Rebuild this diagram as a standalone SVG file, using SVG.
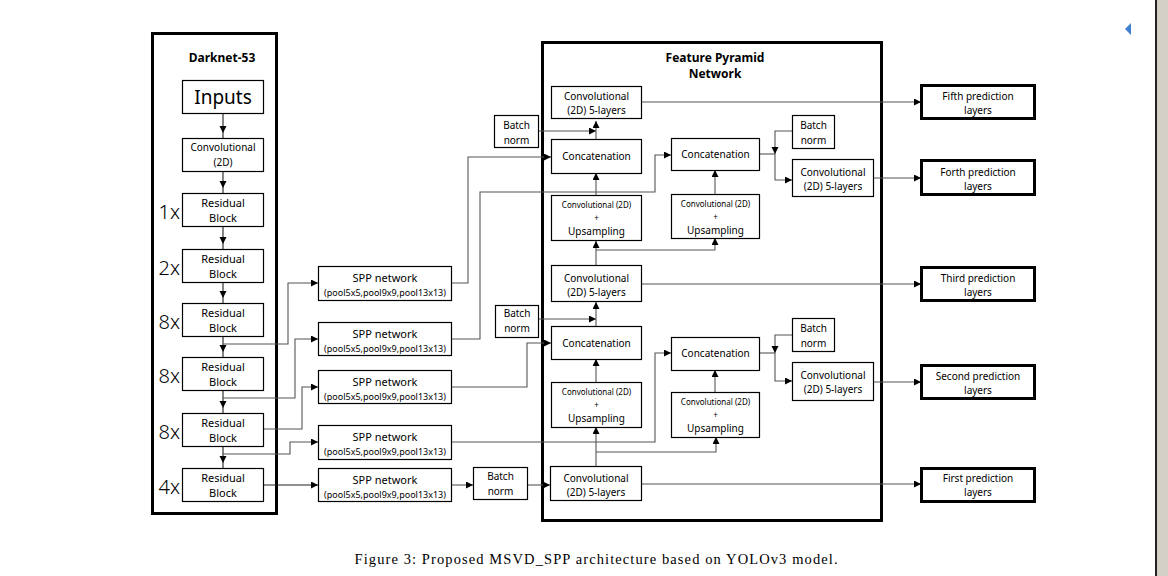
<svg xmlns="http://www.w3.org/2000/svg" width="1168" height="576" viewBox="0 0 1168 576">
  <defs>
    <marker id="arr" markerUnits="userSpaceOnUse" markerWidth="8" markerHeight="8" refX="7" refY="3.5" orient="auto">
      <path d="M0,0 L7,3.5 L0,7 z" fill="#000"/>
    </marker>
    <marker id="arrg" markerUnits="userSpaceOnUse" markerWidth="14" markerHeight="8" refX="12" refY="3.5" orient="auto">
      <path d="M0,0 L7,3.5 L0,7 z" fill="#000"/>
    </marker>
  </defs>
  <style>
    text { font-family: "Noto Sans", "Open Sans", sans-serif; fill: #000; text-anchor: middle; }
    .box { fill: #fff; stroke: #000; stroke-width: 1.2; }
    .frame { fill: none; stroke: #000; stroke-width: 3; }
    .pred { fill: #fff; stroke: #000; stroke-width: 3; }
    .t11 { font-size: 11px; }
    .t10 { font-size: 10px; }
    .t9 { font-size: 9px; }
    .t8 { font-size: 8px; }
    .ttl { font-size: 12px; font-weight: bold; }
    .mul { font-size: 20px; text-anchor: end; font-weight: 300; }
    .c { fill: none; stroke: #555; stroke-width: 1.1; }
    .cd { fill: none; stroke: #222; stroke-width: 1.1; }
    .cap { font-family: "Liberation Serif", "Times New Roman", serif; font-size: 14.5px; }
  </style>

  <rect x="0" y="0" width="1168" height="576" fill="#fff"/>
  <!-- window edge -->
  <rect x="1157" y="0" width="11" height="576" fill="#d4d0c8"/>
  <line x1="1156" y1="0" x2="1156" y2="576" stroke="#222" stroke-width="2"/>
  <path d="M1125,29 L1131,23 L1131,35 z" fill="#3f7fcf"/>

  <!-- frames -->
  <g id="darknet53">
    <rect class="frame" x="152.5" y="33.5" width="124" height="480"/>
    <text class="ttl" x="222" y="62">Darknet-53</text>
  </g>
  <g id="fpn">
    <rect class="frame" x="542.5" y="42.5" width="339" height="478"/>
    <text class="ttl" x="715" y="62">Feature Pyramid</text>
    <text class="ttl" x="715" y="78">Network</text>
  </g>

  <!-- connectors -->
  <g id="connectors">
    <!-- backbone chain -->
    <path class="cd" d="M223,113 V138" marker-end="url(#arrg)"/>
    <path class="cd" d="M223,171 V193" marker-end="url(#arrg)"/>
    <path class="cd" d="M223,226 V249" marker-end="url(#arrg)"/>
    <path class="cd" d="M223,282 V303" marker-end="url(#arrg)"/>
    <path class="cd" d="M223,336 V357" marker-end="url(#arrg)"/>
    <path class="cd" d="M223,390 V413" marker-end="url(#arrg)"/>
    <path class="cd" d="M223,446 V468" marker-end="url(#arrg)"/>
    <!-- backbone to SPP -->
    <path class="c" d="M223,344 H288 V283 H318" marker-end="url(#arr)"/>
    <path class="c" d="M223,398 H295 V339 H318" marker-end="url(#arr)"/>
    <path class="c" d="M263,429 H302 V387 H318" marker-end="url(#arr)"/>
    <path class="c" d="M223,454 H290 V442 H318" marker-end="url(#arr)"/>
    <path class="cd" d="M263,485 H318" marker-end="url(#arr)"/>
    <!-- SPP to FPN -->
    <path class="c" d="M451,283 H468 V157 H551" marker-end="url(#arr)"/>
    <path class="c" d="M451,339 H480 V192 H655 V155 H671" marker-end="url(#arr)"/>
    <path class="c" d="M451,387 H527 V343 H551" marker-end="url(#arr)"/>
    <path class="c" d="M451,442 H655 V353 H671" marker-end="url(#arr)"/>
    <path class="c" d="M451,485 H473" marker-end="url(#arr)"/>
    <path class="c" d="M527,485 H550" marker-end="url(#arr)"/>
    <!-- upper pyramid level -->
    <path class="c" d="M538,131 H596" marker-end="url(#arr)"/>
    <path class="c" d="M596,139 V121" marker-end="url(#arr)"/>
    <path class="c" d="M596,195 V173" marker-end="url(#arr)"/>
    <path class="c" d="M596,265 V241" marker-end="url(#arr)"/>
    <path class="c" d="M596,250 H715 V238" marker-end="url(#arr)"/>
    <path class="c" d="M715,194 V170" marker-end="url(#arr)"/>
    <path class="c" d="M759,154 H775"/>
    <path class="c" d="M792,131 H775 V154" marker-end="url(#arr)"/>
    <path class="c" d="M775,154 V180 H792" marker-end="url(#arr)"/>
    <!-- lower pyramid level -->
    <path class="c" d="M539,319 H596" marker-end="url(#arr)"/>
    <path class="c" d="M596,326 V302" marker-end="url(#arr)"/>
    <path class="c" d="M596,382 V359" marker-end="url(#arr)"/>
    <path class="c" d="M596,466 V427" marker-end="url(#arr)"/>
    <path class="c" d="M596,452 H716 V437" marker-end="url(#arr)"/>
    <path class="c" d="M715,392 V370" marker-end="url(#arr)"/>
    <path class="c" d="M759,353 H775"/>
    <path class="c" d="M792,335 H775 V353" marker-end="url(#arr)"/>
    <path class="c" d="M775,353 V381 H792" marker-end="url(#arr)"/>
    <!-- outputs to prediction layers -->
    <path class="c" d="M641,102 H921" marker-end="url(#arr)"/>
    <path class="c" d="M873,178 H921" marker-end="url(#arr)"/>
    <path class="c" d="M641,284 H921" marker-end="url(#arr)"/>
    <path class="c" d="M873,382 H921" marker-end="url(#arr)"/>
    <path class="c" d="M641,484 H921" marker-end="url(#arr)"/>
  </g>

  <!-- backbone nodes -->
  <g id="inputs">
    <rect class="box" x="182.5" y="80.5" width="81" height="33"/>
    <text x="223" y="104" style="font-size:19px">Inputs</text>
  </g>
  <g id="conv2d">
    <rect class="box" x="182.5" y="138.5" width="81" height="33"/>
    <text class="t10" x="223" y="151">Convolutional</text>
    <text class="t10" x="223" y="166">(2D)</text>
  </g>
  <g id="res1">
    <rect class="box" x="182.5" y="193.5" width="81" height="33"/>
    <text class="t11" x="223" y="207">Residual</text>
    <text class="t11" x="223" y="222">Block</text>
    <text class="mul" x="180" y="219">1x</text>
  </g>
  <g id="res2">
    <rect class="box" x="182.5" y="249.5" width="81" height="33"/>
    <text class="t11" x="223" y="263">Residual</text>
    <text class="t11" x="223" y="278">Block</text>
    <text class="mul" x="180" y="275">2x</text>
  </g>
  <g id="res3">
    <rect class="box" x="182.5" y="303.5" width="81" height="33"/>
    <text class="t11" x="223" y="317">Residual</text>
    <text class="t11" x="223" y="332">Block</text>
    <text class="mul" x="180" y="329">8x</text>
  </g>
  <g id="res4">
    <rect class="box" x="182.5" y="357.5" width="81" height="33"/>
    <text class="t11" x="223" y="371">Residual</text>
    <text class="t11" x="223" y="386">Block</text>
    <text class="mul" x="180" y="383">8x</text>
  </g>
  <g id="res5">
    <rect class="box" x="182.5" y="413.5" width="81" height="33"/>
    <text class="t11" x="223" y="427">Residual</text>
    <text class="t11" x="223" y="442">Block</text>
    <text class="mul" x="180" y="439">8x</text>
  </g>
  <g id="res6">
    <rect class="box" x="182.5" y="468.5" width="81" height="33"/>
    <text class="t11" x="223" y="482">Residual</text>
    <text class="t11" x="223" y="497">Block</text>
    <text class="mul" x="180" y="494">4x</text>
  </g>

  <!-- SPP nodes -->
  <g id="spp1">
    <rect class="box" x="318.5" y="266.5" width="133" height="34"/>
    <text class="t11" x="385" y="282">SPP network</text>
    <text class="t9" x="385" y="296">(pool5x5,pool9x9,pool13x13)</text>
  </g>
  <g id="spp2">
    <rect class="box" x="318.5" y="322.5" width="133" height="33"/>
    <text class="t11" x="385" y="338">SPP network</text>
    <text class="t9" x="385" y="352">(pool5x5,pool9x9,pool13x13)</text>
  </g>
  <g id="spp3">
    <rect class="box" x="318.5" y="370.5" width="133" height="33"/>
    <text class="t11" x="385" y="386">SPP network</text>
    <text class="t9" x="385" y="400">(pool5x5,pool9x9,pool13x13)</text>
  </g>
  <g id="spp4">
    <rect class="box" x="318.5" y="425.5" width="133" height="34"/>
    <text class="t11" x="385" y="441">SPP network</text>
    <text class="t9" x="385" y="455">(pool5x5,pool9x9,pool13x13)</text>
  </g>
  <g id="spp5">
    <rect class="box" x="318.5" y="468.5" width="133" height="33"/>
    <text class="t11" x="385" y="484">SPP network</text>
    <text class="t9" x="385" y="498">(pool5x5,pool9x9,pool13x13)</text>
  </g>

  <!-- batch norm nodes -->
  <g id="bn-top-left">
    <rect class="box" x="494.5" y="115.5" width="44" height="32"/>
    <text class="t10" x="516.5" y="129">Batch</text>
    <text class="t10" x="516.5" y="144">norm</text>
  </g>
  <g id="bn-mid-left">
    <rect class="box" x="495.5" y="305.5" width="43" height="32"/>
    <text class="t10" x="517" y="317">Batch</text>
    <text class="t10" x="517" y="332">norm</text>
  </g>
  <g id="bn-bottom">
    <rect class="box" x="473.5" y="467.5" width="54" height="32"/>
    <text class="t10" x="500.5" y="480">Batch</text>
    <text class="t10" x="500.5" y="495">norm</text>
  </g>
  <g id="bn-top-right">
    <rect class="box" x="792.5" y="115.5" width="42" height="33"/>
    <text class="t10" x="813.5" y="129">Batch</text>
    <text class="t10" x="813.5" y="144">norm</text>
  </g>
  <g id="bn-bottom-right">
    <rect class="box" x="792.5" y="318.5" width="42" height="33"/>
    <text class="t10" x="813.5" y="332">Batch</text>
    <text class="t10" x="813.5" y="347">norm</text>
  </g>

  <!-- FPN nodes -->
  <g id="conv5-top">
    <rect class="box" x="551.5" y="86.5" width="90" height="32"/>
    <text class="t10" x="596.5" y="100">Convolutional</text>
    <text class="t10" x="596.5" y="114">(2D) 5-layers</text>
  </g>
  <g id="concat-top-left">
    <rect class="box" x="551.5" y="139.5" width="90" height="34"/>
    <text class="t10" x="596.5" y="160">Concatenation</text>
  </g>
  <g id="convup-top-left">
    <rect class="box" x="551.5" y="195.5" width="90" height="45"/>
    <text class="t8" x="596.5" y="208">Convolutional (2D)</text>
    <text class="t8" x="596.5" y="221">+</text>
    <text class="t10" x="596.5" y="235">Upsampling</text>
  </g>
  <g id="concat-top-right">
    <rect class="box" x="671.5" y="138.5" width="88" height="32"/>
    <text class="t10" x="715.5" y="158">Concatenation</text>
  </g>
  <g id="convup-top-right">
    <rect class="box" x="671.5" y="194.5" width="88" height="44"/>
    <text class="t8" x="715.5" y="207">Convolutional (2D)</text>
    <text class="t8" x="715.5" y="220">+</text>
    <text class="t10" x="715.5" y="234">Upsampling</text>
  </g>
  <g id="conv5-top-right">
    <rect class="box" x="792.5" y="159.5" width="81" height="37"/>
    <text class="t10" x="833" y="176">Convolutional</text>
    <text class="t10" x="833" y="190">(2D) 5-layers</text>
  </g>
  <g id="conv5-mid">
    <rect class="box" x="551.5" y="265.5" width="90" height="36"/>
    <text class="t10" x="596.5" y="282">Convolutional</text>
    <text class="t10" x="596.5" y="296">(2D) 5-layers</text>
  </g>
  <g id="concat-bottom-left">
    <rect class="box" x="551.5" y="326.5" width="90" height="33"/>
    <text class="t10" x="596.5" y="347">Concatenation</text>
  </g>
  <g id="convup-bottom-left">
    <rect class="box" x="551.5" y="382.5" width="90" height="45"/>
    <text class="t8" x="596.5" y="395">Convolutional (2D)</text>
    <text class="t8" x="596.5" y="408">+</text>
    <text class="t10" x="596.5" y="422">Upsampling</text>
  </g>
  <g id="concat-bottom-right">
    <rect class="box" x="671.5" y="337.5" width="88" height="33"/>
    <text class="t10" x="715.5" y="357">Concatenation</text>
  </g>
  <g id="convup-bottom-right">
    <rect class="box" x="671.5" y="392.5" width="88" height="45"/>
    <text class="t8" x="715.5" y="405">Convolutional (2D)</text>
    <text class="t8" x="715.5" y="418">+</text>
    <text class="t10" x="715.5" y="432">Upsampling</text>
  </g>
  <g id="conv5-bottom-right">
    <rect class="box" x="792.5" y="362.5" width="81" height="38"/>
    <text class="t10" x="833" y="379">Convolutional</text>
    <text class="t10" x="833" y="393">(2D) 5-layers</text>
  </g>
  <g id="conv5-bottom">
    <rect class="box" x="550.5" y="466.5" width="91" height="34"/>
    <text class="t10" x="596" y="482">Convolutional</text>
    <text class="t10" x="596" y="496">(2D) 5-layers</text>
  </g>

  <!-- prediction heads -->
  <g id="pred-fifth">
    <rect class="pred" x="921.5" y="85.5" width="113" height="33"/>
    <text class="t10" x="978" y="100">Fifth prediction</text>
    <text class="t10" x="978" y="114">layers</text>
  </g>
  <g id="pred-forth">
    <rect class="pred" x="921.5" y="160.5" width="113" height="34"/>
    <text class="t10" x="978" y="176">Forth prediction</text>
    <text class="t10" x="978" y="190">layers</text>
  </g>
  <g id="pred-third">
    <rect class="pred" x="921.5" y="267.5" width="113" height="33"/>
    <text class="t10" x="978" y="282">Third prediction</text>
    <text class="t10" x="978" y="296">layers</text>
  </g>
  <g id="pred-second">
    <rect class="pred" x="921.5" y="365.5" width="113" height="33"/>
    <text class="t10" x="978" y="380">Second prediction</text>
    <text class="t10" x="978" y="394">layers</text>
  </g>
  <g id="pred-first">
    <rect class="pred" x="921.5" y="468.5" width="113" height="33"/>
    <text class="t10" x="978" y="482">First prediction</text>
    <text class="t10" x="978" y="496">layers</text>
  </g>

  <text class="cap" x="596" y="564" textLength="483" lengthAdjust="spacing">Figure 3: Proposed MSVD_SPP architecture based on YOLOv3 model.</text>
</svg>
